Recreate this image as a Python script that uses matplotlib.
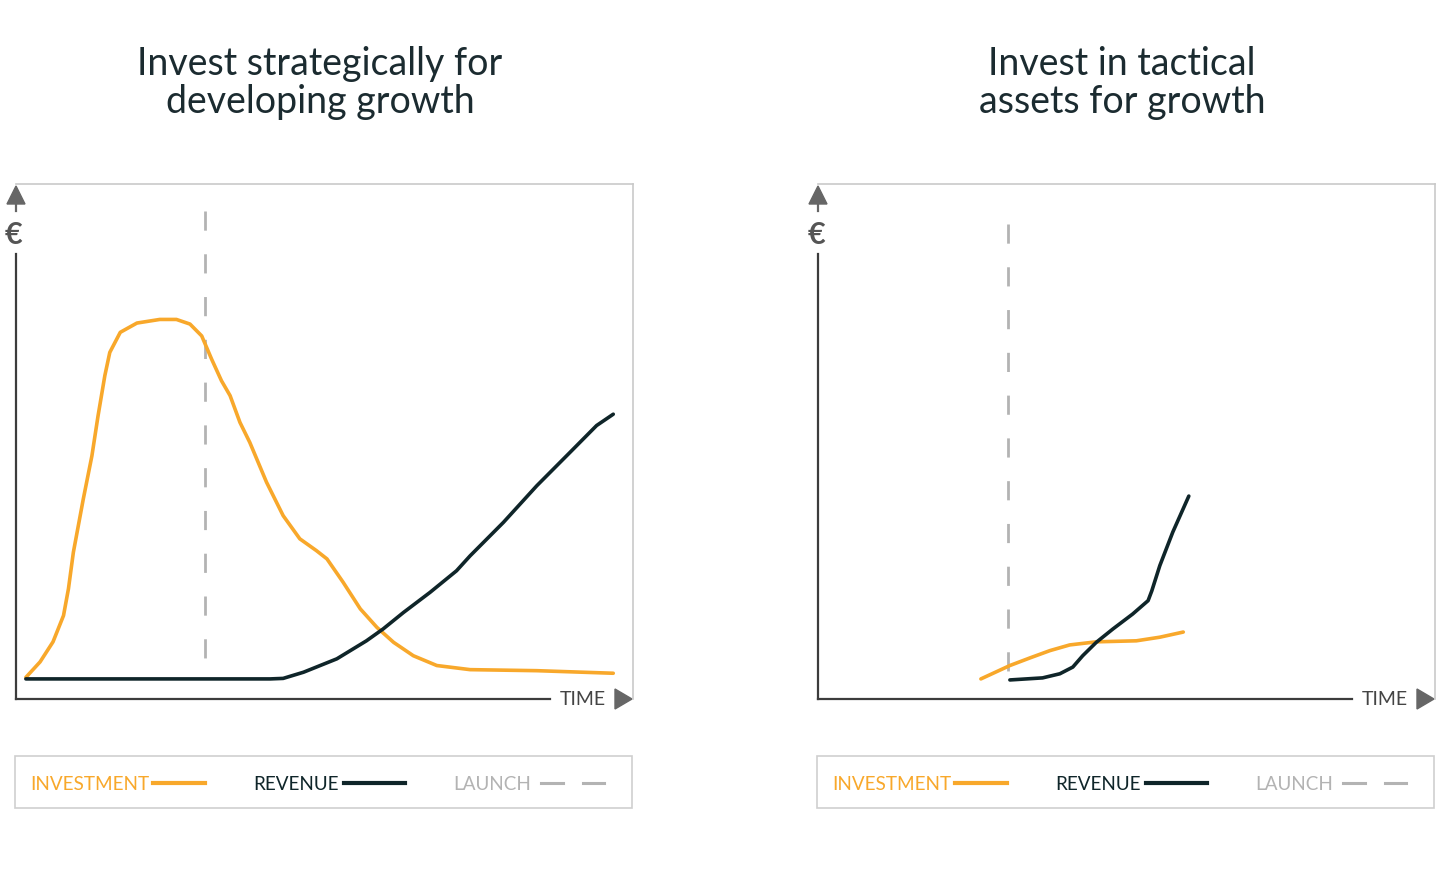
import matplotlib
matplotlib.use('Agg')
import matplotlib.pyplot as plt
from matplotlib.patches import Polygon, Rectangle
from matplotlib.lines import Line2D

plt.rcParams['font.family'] = ['Lato', 'DejaVu Sans']

ORANGE = '#f8a82b'
DARK = '#0f2529'
GREY = '#b3b3b3'
AXIS = '#3c3c3c'

# left panel: strategic investment
left_title = 'Invest strategically for\ndeveloping growth'
left_inv_t = [1.6, 3.9, 6.0, 7.7, 8.5, 9.3, 10.9, 12.3, 13.3, 14.4, 15.2, 16.9, 19.6, 23.3,
              26.0, 28.2, 30.1, 31.7, 33.3, 34.7, 36.3, 37.9, 40.6, 43.3, 46.0, 48.7, 50.4,
              53.0, 55.8, 58.5, 61.2, 64.4, 68.2, 73.6, 84.4, 96.8]
left_inv_v = [4.2, 7.2, 11.1, 16.2, 21.4, 28.5, 38.8, 47.2, 55.0, 62.8, 67.3, 71.2, 73.0, 73.7,
              73.7, 72.8, 70.5, 66.0, 61.8, 58.9, 53.7, 49.8, 42.1, 35.6, 31.1, 28.8, 27.2,
              22.7, 17.5, 13.9, 11.0, 8.4, 6.5, 5.7, 5.5, 5.0]
left_rev_t = [1.6, 41.2, 43.3, 46.6, 52.0, 56.8, 59.5, 62.8, 67.1, 71.4, 73.6, 79.0, 84.4,
              89.8, 94.1, 96.8]
left_rev_v = [3.9, 3.9, 4.0, 5.2, 7.8, 11.3, 13.6, 16.8, 20.7, 24.9, 27.8, 34.3, 41.4,
              47.9, 53.1, 55.3]
left_launch = 30.6
left_launch_span = (94.8, 3.9)

# right panel: tactical assets
right_title = 'Invest in tactical\nassets for growth'
right_inv_t = [26.4, 31.1, 34.4, 37.6, 40.8, 45.1, 51.6, 55.4, 59.2]
right_inv_v = [3.9, 6.5, 8.0, 9.4, 10.5, 11.1, 11.3, 12.0, 13.0]
right_rev_t = [31.1, 36.4, 39.2, 41.3, 42.9, 45.1, 47.8, 51.0, 53.5, 54.1, 55.4, 57.5, 60.1]
right_rev_v = [3.7, 4.1, 4.9, 6.2, 8.4, 11.0, 13.6, 16.5, 19.1, 21.0, 25.9, 32.4, 39.4]
right_launch = 30.8
right_launch_span = (92.2, 3.9)

legend_labels = ['INVESTMENT', 'REVENUE', 'LAUNCH']

W, H = 1450, 879
fig = plt.figure(figsize=(W / 100, H / 100), dpi=100)


def fx(px):
    return px / W


def fy(py):
    return 1 - py / H


def panel(x0, title, inv_t, inv_v, rev_t, rev_v, launch, span):
    ax = fig.add_axes([fx(x0), fy(700), 617 / W, 515 / H])
    ax.set_xlim(0, 100)
    ax.set_ylim(0, 100)
    ax.set_xticks([])
    ax.set_yticks([])
    for s in ('left', 'bottom'):
        ax.spines[s].set_visible(False)
    for s in ('top', 'right'):
        ax.spines[s].set_color('#c9c9c9')
        ax.spines[s].set_linewidth(1.2)

    ax.plot([launch, launch], span, color=GREY, lw=2, dashes=(6.9, 8.5),
            solid_capstyle='butt')
    ax.plot(inv_t, inv_v, color=ORANGE, lw=2.6, solid_capstyle='round', solid_joinstyle='round')
    ax.plot(rev_t, rev_v, color=DARK, lw=2.6, solid_capstyle='round', solid_joinstyle='round')

    # y axis with arrow and euro sign
    t = ax.transAxes
    ax.add_line(Line2D([0, 0], [0, (700 - 255) / 515], color=AXIS, lw=1.6, transform=t, clip_on=False))
    ax.add_line(Line2D([0, 0], [(700 - 212) / 515, (700 - 203) / 515], color='#666666', lw=1.6,
                       transform=t, clip_on=False))
    ax.add_patch(Polygon([(-9 / 617, (700 - 205) / 515), (9 / 617, (700 - 205) / 515),
                          (0, (700 - 187) / 515)], closed=True, color='#666666',
                         transform=t, clip_on=False))
    ax.text(-2 / 617, (700 - 235) / 515, '€', transform=t, ha='center', va='center',
            fontsize=22, fontweight='bold', color='#555555')

    # x axis with arrow and label
    ax.add_line(Line2D([0, 534 / 617], [0, 0], color=AXIS, lw=1.6, transform=t, clip_on=False))
    ax.text(544 / 617, 0, 'TIME', transform=t, ha='left', va='center', fontsize=14,
            color='#444444')
    ax.add_patch(Polygon([(599 / 617, 10 / 515), (599 / 617, -10 / 515), (616 / 617, 0)],
                         closed=True, color='#666666', transform=t, clip_on=False))

    fig.text(fx(x0 + 304), fy(83), title, ha='center', va='center', fontsize=27,
             color='#1b2b30', linespacing=1.05)

    # legend box
    fig.patches.append(Rectangle((fx(x0 - 1), fy(809)), 617 / W, 52 / H, transform=fig.transFigure,
                                 fill=False, edgecolor='#cfcfcf', lw=1.2))
    ly = fy(785)
    fig.text(fx(x0 + 14), ly, legend_labels[0], color=ORANGE, fontsize=13.6, va='center')
    fig.lines.append(Line2D([fx(x0 + 137), fx(x0 + 189)], [fy(784), fy(784)], color=ORANGE, lw=3,
                            transform=fig.transFigure))
    fig.text(fx(x0 + 237), ly, legend_labels[1], color=DARK, fontsize=13.6, va='center')
    fig.lines.append(Line2D([fx(x0 + 328), fx(x0 + 389)], [fy(784), fy(784)], color=DARK, lw=3,
                            transform=fig.transFigure))
    fig.text(fx(x0 + 437), ly, legend_labels[2], color=GREY, fontsize=13.6, va='center')
    for a, b in ((525, 547), (567, 588)):
        fig.lines.append(Line2D([fx(x0 + a), fx(x0 + b)], [fy(784), fy(784)], color=GREY, lw=2.2,
                                transform=fig.transFigure))
    return ax


panel(16, left_title, left_inv_t, left_inv_v, left_rev_t, left_rev_v, left_launch, left_launch_span)
panel(818, right_title, right_inv_t, right_inv_v, right_rev_t, right_rev_v, right_launch, right_launch_span)

fig.savefig('out.png', dpi=100, facecolor='white')
